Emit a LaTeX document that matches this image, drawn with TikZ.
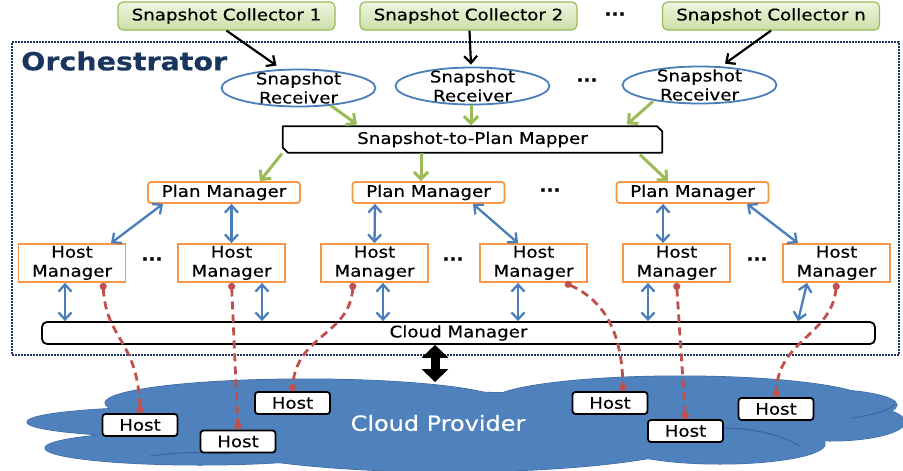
\documentclass[tikz,border=0pt]{standalone}
\usepackage{fontspec}
\setmainfont{DejaVu Sans}[FakeStretch=1.14,FakeBold=0.4]
\usetikzlibrary{arrows.meta,shapes.geometric}

\definecolor{navy}{HTML}{1A365E}
\definecolor{leafline}{HTML}{9BBB59}
\definecolor{leaftop}{HTML}{EEF5E1}
\definecolor{leafbot}{HTML}{CCDEA6}
\definecolor{skyline}{HTML}{4A7EBB}
\definecolor{amber}{HTML}{F79646}
\definecolor{brick}{HTML}{C0504D}
\definecolor{cloudblue}{HTML}{4F81BD}
\definecolor{cloudedge}{HTML}{3B659A}

\newcommand\dgtext{\fontsize{16}{19}\selectfont}

\tikzset{
  collector/.style={draw=leafline, line width=1.2pt, rounded corners=5pt,
    top color=leaftop, bottom color=leafbot, minimum width=217pt,
    minimum height=28pt, inner sep=0pt, font=\dgtext},
  receiver/.style={ellipse, draw=skyline, line width=1.8pt, fill=white,
    minimum width=154pt, minimum height=37pt, inner sep=0pt},
  rtext/.style={font=\dgtext, align=center},
  planbox/.style={draw=amber, line width=1.8pt, rounded corners=3pt, fill=white,
    minimum width=152pt, minimum height=21pt, inner sep=0pt, font=\dgtext},
  hostmgr/.style={draw=amber, line width=1.8pt, fill=white, minimum width=107pt,
    minimum height=38pt, inner sep=0pt, align=center, font=\dgtext},
  hostbox/.style={draw=black, line width=1.8pt, rounded corners=3pt, fill=white,
    minimum width=75pt, minimum height=22pt, inner sep=0pt, font=\dgtext},
  ellipsis/.style={font=\dgtext\bfseries, inner sep=0pt},
  blackarr/.style={line width=2.2pt, -{Straight Barb[length=7pt,width=13pt]}},
  greenarr/.style={draw=leafline, line width=3pt,
    -{Straight Barb[length=7pt,width=14pt]}},
  bluearr/.style={draw=skyline, line width=2.3pt,
    {Straight Barb[length=7pt,width=13pt]}-{Straight Barb[length=7pt,width=13pt]}},
  wire/.style={draw=brick, line width=2.8pt, dash pattern=on 8pt off 5pt,
    {Circle[length=7pt]}-{Circle[length=7pt]}},
  cloudpart/.style={fill=cloudblue, draw=cloudedge, line width=1pt},
}

\begin{document}
\begin{tikzpicture}[x=1pt,y=-1pt]
\useasboundingbox (0,0) rectangle (903,471);
\fill[white] (0,0) rectangle (903,471);

% orchestrator frame and title
\node[draw=navy, line width=2.4pt, dash pattern=on 2pt off 1pt,
      minimum width=887pt, minimum height=313pt, inner sep=0pt] (orch) at (455.5,198.5) {};
\node[anchor=west, text=navy, inner sep=0pt,
      font=\fontsize{25}{30}\selectfont\bfseries] (title) at (21,61) {Orchestrator};

% snapshot collectors
\node[collector] (c1) at (226.5,16) {Snapshot Collector 1};
\node[collector] (c2) at (468.5,16) {Snapshot Collector 2};
\node[collector] (cn) at (771,16) {Snapshot Collector n};
\node[ellipsis] (cdots) at (615,14) {...};

% snapshot receivers
\node[receiver, label={[rtext]center:Snapshot\\Receiver}] (r1) at (298.5,88) {};
\node[receiver, label={[rtext]center:Snapshot\\Receiver}] (r2) at (472.5,86) {};
\node[receiver, label={[rtext]center:Snapshot\\Receiver}] (rn) at (699.5,85) {};
\node[ellipsis] (rdots) at (587,80) {...};

% mapper with snipped corners
\node[minimum width=379pt, minimum height=26pt, inner sep=0pt, font=\dgtext]
  (mp) at (472.5,139.5) {Snapshot-to-Plan Mapper};
\draw[line width=1.8pt, line join=round]
  (mp.north west) -- ([xshift=-5pt]mp.north east) -- ([yshift=-5pt]mp.north east)
  -- (mp.south east) -- ([xshift=5pt]mp.south west) -- ([yshift=5pt]mp.south west) -- cycle;

% plan managers
\node[planbox] (pm1) at (224,192.5) {Plan Manager};
\node[planbox] (pm2) at (428.5,192.5) {Plan Manager};
\node[planbox] (pm3) at (692.5,192.5) {Plan Manager};
\node[ellipsis] (pmdots) at (550,190) {...};

% host managers
\node[hostmgr] (hm1) at (72,263) {Host\\Manager};
\node[hostmgr] (hm2) at (231.5,263) {Host\\Manager};
\node[hostmgr] (hm3) at (374.5,263) {Host\\Manager};
\node[hostmgr] (hm4) at (533.5,263) {Host\\Manager};
\node[hostmgr] (hm5) at (676.5,263) {Host\\Manager};
\node[hostmgr] (hm6) at (836.5,263) {Host\\Manager};
\node[ellipsis] (hdots1) at (152,259) {...};
\node[ellipsis] (hdots2) at (453,259) {...};
\node[ellipsis] (hdots3) at (757,259) {...};

% cloud manager
\node[draw, line width=1.8pt, rounded corners=5pt, fill=white, minimum width=833pt,
      minimum height=22pt, inner sep=0pt, font=\dgtext] (cm) at (458.5,333) {Cloud Manager};

% cloud provider: outline pass, then fill pass to keep only the silhouette
\foreach \cx/\cy/\rx/\ry in {305/403/200/24, 680/402/190/26, 815/405/82/16,
    830/422/75/19, 178/422/151/15, 200/448/155/17, 720/444/105/20, 450/432/265/40}
  \draw[cloudpart] (\cx,\cy) ellipse [x radius=\rx pt, y radius=\ry pt];
\foreach \cx/\cy/\rx/\ry in {305/403/200/24, 680/402/190/26, 815/405/82/16,
    830/422/75/19, 178/422/151/15, 200/448/155/17, 720/444/105/20, 450/432/265/40}
  \fill[cloudblue] (\cx,\cy) ellipse [x radius=\rx pt, y radius=\ry pt];
\draw[cloudedge, line width=1pt] (800,446) .. controls (780,434) and (750,428) .. (723,428);
\draw[cloudedge, line width=1pt] (853,418) .. controls (870,415) and (890,411) .. (895,404);
\draw[cloudedge, line width=1pt] (150,456) .. controls (180,452) and (200,452) .. (230,454);
\node[text=white, font=\fontsize{21}{24}\selectfont, inner sep=0pt] (cp) at (438,423) {Cloud Provider};
\coordinate (cloudtop) at (435,382);

% hosts
\node[hostbox] (h1) at (140,425) {Host};
\node[hostbox] (h2) at (238,441.5) {Host};
\node[hostbox] (h3) at (292.5,403) {Host};
\node[hostbox] (h4) at (610,403) {Host};
\node[hostbox] (h5) at (685.5,431) {Host};
\node[hostbox] (h6) at (776,409) {Host};

% collectors to receivers
\draw[blackarr] (c1.south) -- ([xshift=-22pt,yshift=3pt]r1.north);
\draw[blackarr] ([xshift=1pt]c2.south) -- ([xshift=-1.5pt,yshift=2pt]r2.north);
\draw[blackarr] (cn.south) -- ([xshift=25.5pt,yshift=2pt]rn.north);

% receivers to mapper, mapper to plan managers
\draw[greenarr] ([xshift=32pt,yshift=2pt]r1.south) -- ([xshift=-115.5pt,yshift=2pt]mp.north);
\draw[greenarr] ([xshift=-1.5pt]r2.south) -- ([xshift=-1.5pt,yshift=1pt]mp.north);
\draw[greenarr] ([xshift=-46.5pt,yshift=3pt]rn.south) -- ([xshift=154.5pt,yshift=2pt]mp.north);
\draw[greenarr] ([xshift=-1pt,yshift=-1pt]mp.south west) -- ([xshift=36pt]pm1.north);
\draw[greenarr] ([xshift=-51.5pt]mp.south) -- ([xshift=-7.5pt]pm2.north);
\draw[greenarr] ([xshift=167.5pt,yshift=-2pt]mp.south) -- ([xshift=-24.5pt]pm3.north);

% plan managers to host managers
\draw[bluearr] ([xshift=-61pt]pm1.south) -- ([xshift=39pt]hm1.north);
\draw[bluearr] ([xshift=7.5pt]pm1.south) -- (hm2.north);
\draw[bluearr] ([xshift=-53.5pt]pm2.south) -- (hm3.north);
\draw[bluearr] ([xshift=44.5pt]pm2.south) -- ([xshift=-15.5pt]hm4.north);
\draw[bluearr] ([xshift=-29.5pt]pm3.south) -- ([xshift=-13.5pt]hm5.north);
\draw[bluearr] ([xshift=54.5pt]pm3.south) -- ([xshift=-38.5pt]hm6.north);

% host managers to cloud manager
\draw[bluearr] ([xshift=-7pt]hm1.south) coordinate (t1) -- (t1 |- cm.north);
\draw[bluearr] ([xshift=30.5pt]hm2.south) coordinate (t2) -- (t2 |- cm.north);
\draw[bluearr] ([xshift=8.5pt]hm3.south) coordinate (t3) -- (t3 |- cm.north);
\draw[bluearr] ([xshift=-15.5pt]hm4.south) coordinate (t4) -- (t4 |- cm.north);
\draw[bluearr] ([xshift=-28.5pt]hm5.south) coordinate (t5) -- (t5 |- cm.north);
\draw[bluearr] ([xshift=-29.5pt]hm6.south) -- ([xshift=339.5pt]cm.north);

% cloud manager to cloud provider
\draw[line width=9pt,
  {Triangle[length=13pt,width=27pt,line width=0pt]}-{Triangle[length=13pt,width=27pt,line width=0pt]}]
  (cm.south -| cloudtop) -- (cloudtop);

% host managers to their hosts
\draw[wire] ([xshift=31pt]hm1.south) .. controls (106,340) and (138,340) .. (h1.north);
\draw[wire] (hm2.south) -- (h2.north);
\draw[wire] ([xshift=-21.5pt]hm3.south) .. controls (350,335) and (296,335) .. (h3.north);
\draw[wire] ([xshift=31.5pt]hm4.south) .. controls (603,300) and (622,330) .. ([xshift=13pt]h4.north);
\draw[wire] (hm5.south) -- (h5.north);
\draw[wire] (hm6.south) .. controls (832,335) and (778,340) .. (h6.north);
\end{tikzpicture}
\end{document}
